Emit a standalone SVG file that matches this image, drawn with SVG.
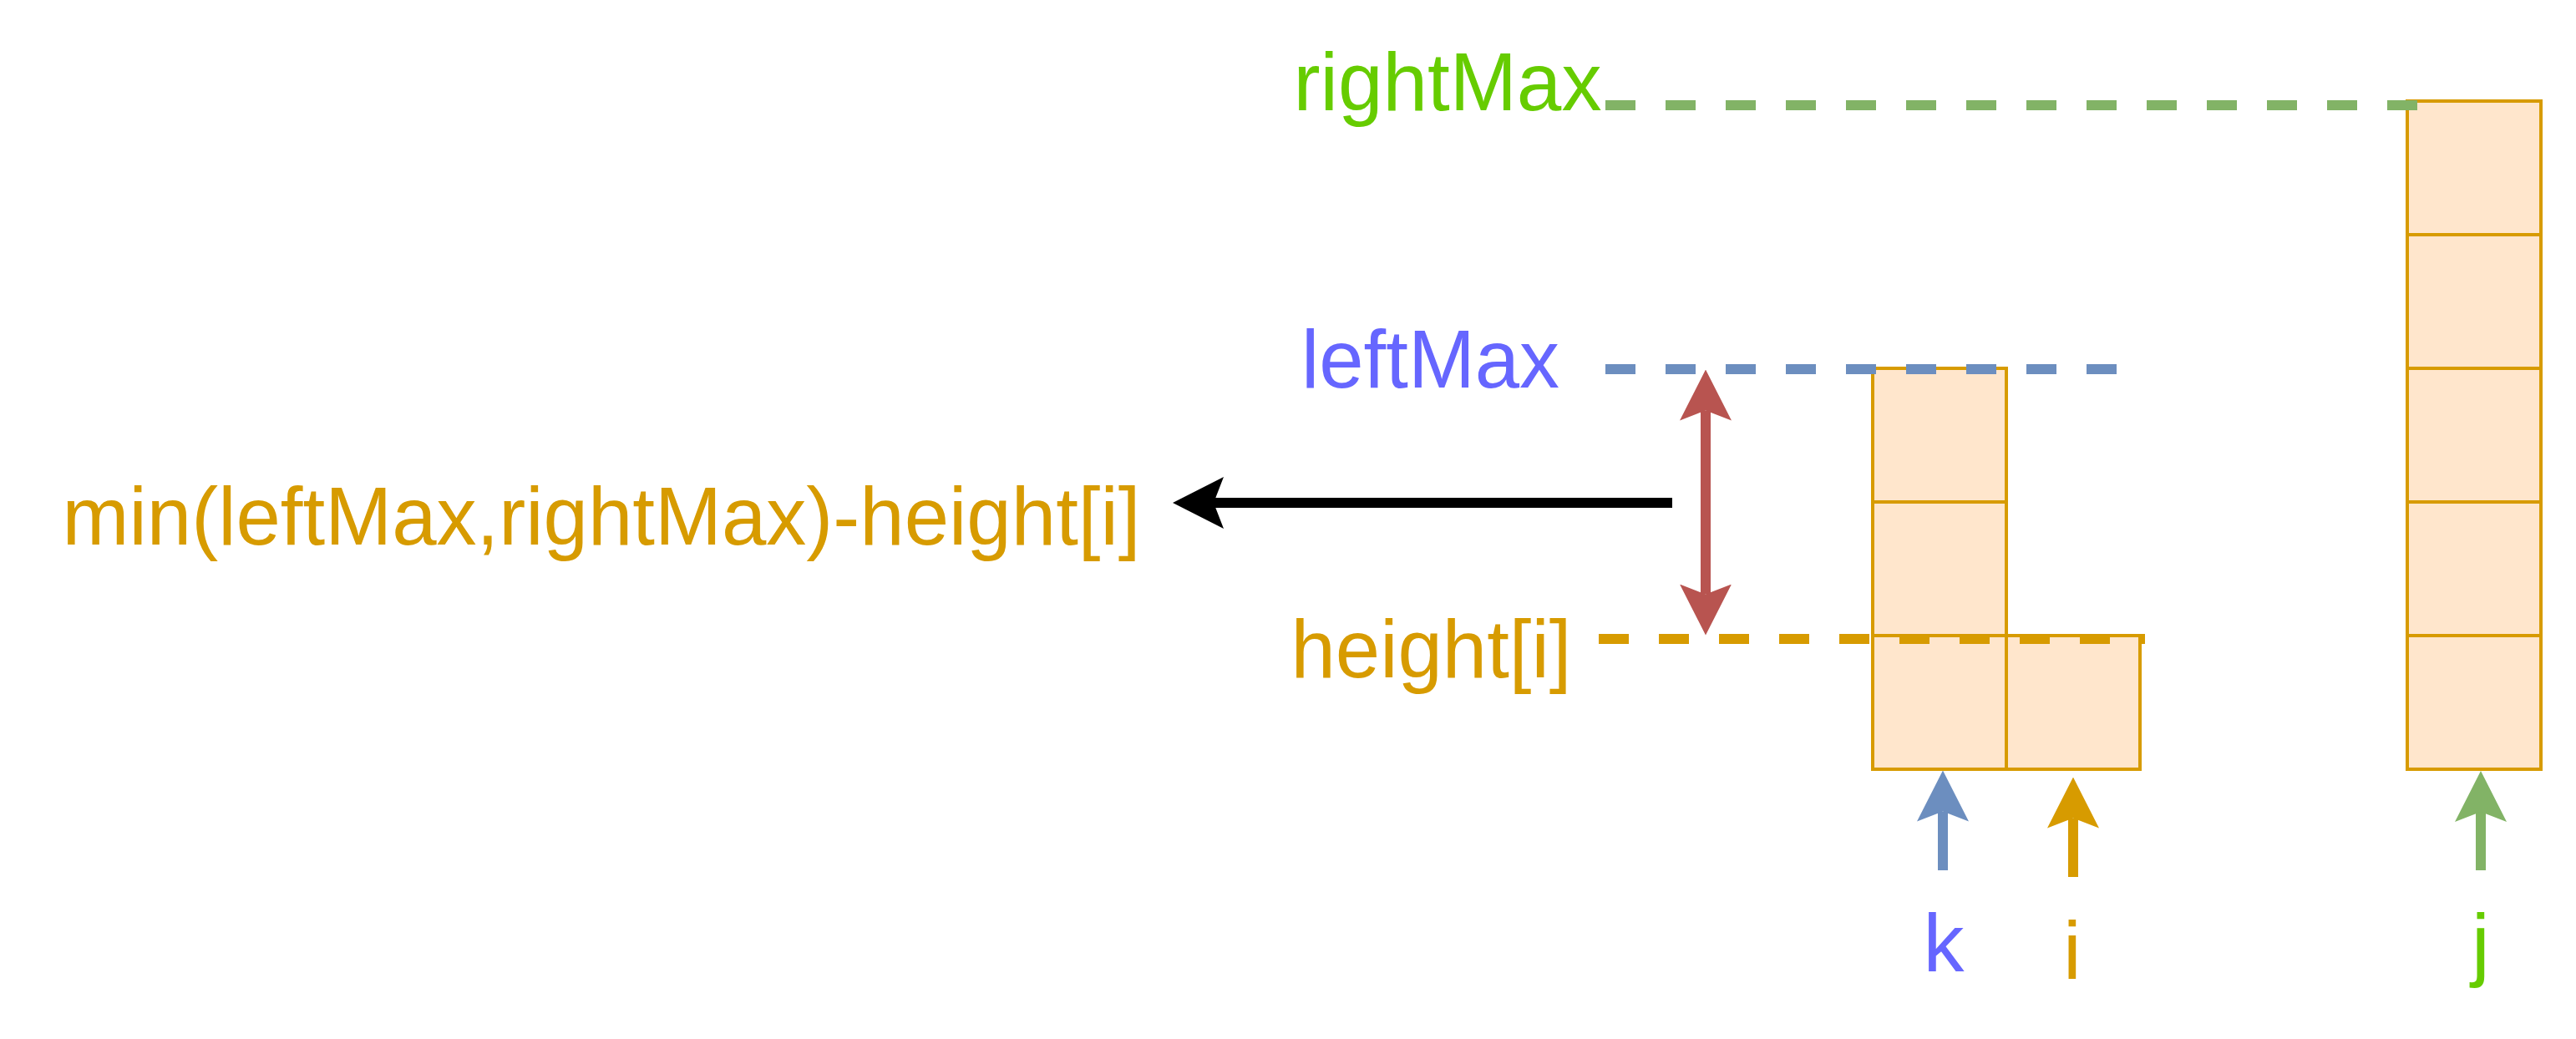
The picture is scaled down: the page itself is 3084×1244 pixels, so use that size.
<svg xmlns="http://www.w3.org/2000/svg" width="3084" height="1244" viewBox="0 0 3084 1244">
<style>
.cell{fill:#FFE6CC;stroke:#D79B00;stroke-width:4}
.lbl{font-family:"Liberation Sans",Arial,sans-serif;font-size:98px}
.dash{stroke-width:12;stroke-dasharray:36 36;fill:none}
.shaft{fill:none;stroke-width:12}
</style>
<defs>
<marker id="ah-blue" markerUnits="userSpaceOnUse" markerWidth="61" markerHeight="62" viewBox="0 0 61 62" refX="12" refY="31" orient="auto-start-reverse"><path d="M0,0 L61,31 L0,62 L12,31 Z" fill="#6C8EBF"/></marker>
<marker id="ah-orange" markerUnits="userSpaceOnUse" markerWidth="61" markerHeight="62" viewBox="0 0 61 62" refX="12" refY="31" orient="auto-start-reverse"><path d="M0,0 L61,31 L0,62 L12,31 Z" fill="#D79B00"/></marker>
<marker id="ah-green" markerUnits="userSpaceOnUse" markerWidth="61" markerHeight="62" viewBox="0 0 61 62" refX="12" refY="31" orient="auto-start-reverse"><path d="M0,0 L61,31 L0,62 L12,31 Z" fill="#82B366"/></marker>
<marker id="ah-red" markerUnits="userSpaceOnUse" markerWidth="61" markerHeight="62" viewBox="0 0 61 62" refX="12" refY="31" orient="auto-start-reverse"><path d="M0,0 L61,31 L0,62 L12,31 Z" fill="#B85450"/></marker>
<marker id="ah-black" markerUnits="userSpaceOnUse" markerWidth="61" markerHeight="62" viewBox="0 0 61 62" refX="12" refY="31" orient="auto-start-reverse"><path d="M0,0 L61,31 L0,62 L12,31 Z" fill="#000000"/></marker>
</defs>
<rect width="3084" height="1244" fill="#ffffff"/>
<g id="bar-k">
<rect class="cell" x="2242" y="441" width="160" height="160"/>
<rect class="cell" x="2242" y="601" width="160" height="160"/>
<rect class="cell" x="2242" y="761" width="160" height="160"/>
</g>
<g id="bar-i">
<rect class="cell" x="2402" y="761" width="160" height="160"/>
</g>
<g id="bar-j">
<rect class="cell" x="2882" y="121" width="160" height="160"/>
<rect class="cell" x="2882" y="281" width="160" height="160"/>
<rect class="cell" x="2882" y="441" width="160" height="160"/>
<rect class="cell" x="2882" y="601" width="160" height="160"/>
<rect class="cell" x="2882" y="761" width="160" height="160"/>
</g>
<g id="connectors">
<line class="dash" x1="1922" y1="126" x2="2894" y2="126" stroke="#82B366"/>
<line class="dash" x1="1922" y1="442" x2="2534" y2="442" stroke="#6C8EBF"/>
<line class="dash" x1="1914" y1="765" x2="2568" y2="765" stroke="#D79B00"/>
<line class="shaft" x1="2042" y1="491.5" x2="2042" y2="711.5" stroke="#B85450" marker-start="url(#ah-red)" marker-end="url(#ah-red)"/>
<line class="shaft" x1="2002" y1="602" x2="1453" y2="602" stroke="#000000" marker-end="url(#ah-black)"/>
<line class="shaft" x1="2326" y1="1042" x2="2326" y2="971.5" stroke="#6C8EBF" marker-end="url(#ah-blue)"/>
<line class="shaft" x1="2482" y1="1050" x2="2482" y2="979.5" stroke="#D79B00" marker-end="url(#ah-orange)"/>
<line class="shaft" x1="2970" y1="1042" x2="2970" y2="972" stroke="#82B366" marker-end="url(#ah-green)"/>
</g>
<g id="label-rightMax"><text class="lbl" x="1548.5" y="132" fill="#66CC00" textLength="369" lengthAdjust="spacingAndGlyphs">rightMax</text></g>
<g id="label-leftMax"><text class="lbl" x="1558" y="464" fill="#6666FF" textLength="309" lengthAdjust="spacingAndGlyphs">leftMax</text></g>
<g id="label-height"><text class="lbl" x="1545.5" y="811" fill="#D79B00" textLength="336" lengthAdjust="spacingAndGlyphs">height[i]</text></g>
<g id="label-formula"><text class="lbl" x="74.5" y="652" fill="#D79B00" textLength="1291" lengthAdjust="spacingAndGlyphs">min(leftMax,rightMax)-height[i]</text></g>
<g id="label-k"><text class="lbl" x="2327" y="1163" fill="#6666FF" text-anchor="middle">k</text></g>
<g id="label-i"><text class="lbl" x="2481" y="1172" fill="#D79B00" text-anchor="middle">i</text></g>
<g id="label-j"><text class="lbl" x="2970" y="1163" fill="#66CC00" text-anchor="middle">j</text></g>
</svg>
